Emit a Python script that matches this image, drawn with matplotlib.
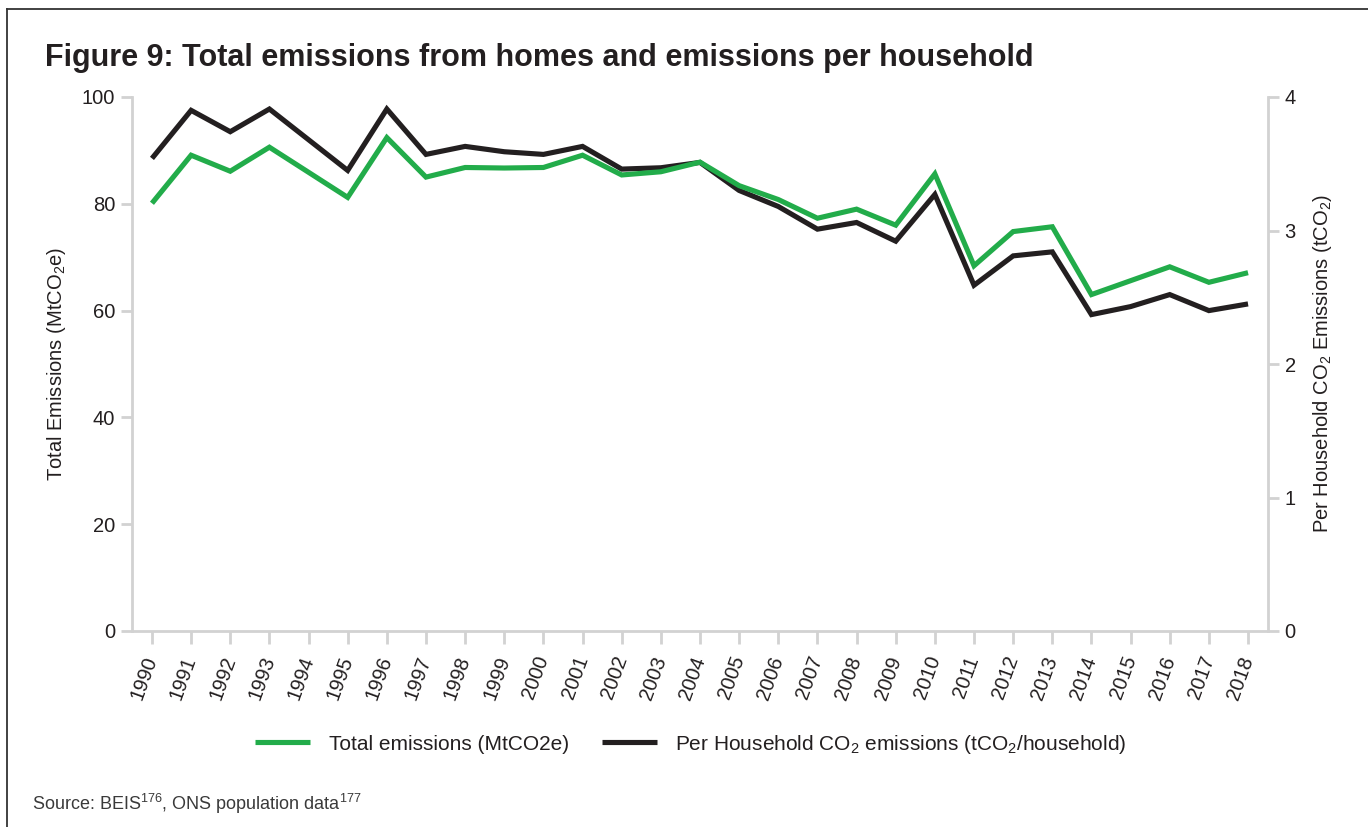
import matplotlib
matplotlib.use("Agg")
import matplotlib.pyplot as plt
from matplotlib.lines import Line2D

plt.rcParams['font.family'] = ['Liberation Sans', 'DejaVu Sans']
plt.rcParams['mathtext.fontset'] = 'custom'
plt.rcParams['mathtext.rm'] = 'Liberation Sans'

# ---- data ----
years = list(range(1990, 2019))
total_emissions = [80.1, 89.1, 86.1, 90.6, 85.9, 81.2, 92.4, 85.0, 86.8, 86.7,
                   86.8, 89.1, 85.4, 86.0, 87.8, 83.4, 80.8, 77.3, 79.0, 76.0,
                   85.6, 68.4, 74.8, 75.7, 63.0, 65.6, 68.2, 65.3, 67.1]
per_household = [3.54, 3.90, 3.74, 3.91, 3.68, 3.45, 3.91, 3.57, 3.63, 3.59,
                 3.57, 3.63, 3.46, 3.47, 3.51, 3.30, 3.18, 3.01, 3.06, 2.92,
                 3.27, 2.59, 2.81, 2.84, 2.37, 2.43, 2.52, 2.40, 2.45]
left_ticks = [0, 20, 40, 60, 80, 100]
right_ticks = [0, 1, 2, 3, 4]

title = "Figure 9: Total emissions from homes and emissions per household"
label_total = "Total emissions (MtCO2e)"
label_hh = r"Per Household CO$_\mathregular{2}$ emissions (tCO$_\mathregular{2}$/household)"
ylabel_left = r"Total Emissions (MtCO$_\mathregular{2}$e)"
ylabel_right = r"Per Household CO$_\mathregular{2}$ Emissions (tCO$_\mathregular{2}$)"
source = r"Source: BEIS$^\mathregular{176}$, ONS population data$^\mathregular{177}$"

GREEN = '#22ac4a'
BLACK = '#231f20'
GRID = '#d2d2d2'
TXT = '#231f20'

W, H = 1368, 827
fig = plt.figure(figsize=(W / 100, H / 100), dpi=100)

x0, x1, ytop, ybot = 132, 1268, 97, 631
ax = fig.add_axes([x0 / W, 1 - ybot / H, (x1 - x0) / W, (ybot - ytop) / H])
ax2 = ax.twinx()

ax2.plot(years, per_household, color=BLACK, lw=3.7, solid_joinstyle='miter',
         solid_capstyle='butt', label=label_hh)
ax.plot(years, total_emissions, color=GREEN, lw=3.7, solid_joinstyle='miter',
        solid_capstyle='butt', label=label_total)

ax.set_zorder(ax2.get_zorder() + 1)
ax.patch.set_visible(False)

ax.set_xlim(1989.49, 2018.51)
ax.set_ylim(0, 100)
ax2.set_ylim(0, 4)
ax.set_xticks(years)
ax.set_xticklabels([str(y) for y in years], rotation=70, ha='right',
                   rotation_mode='anchor', va='center', fontsize=14.5, color=TXT)
ax.set_yticks(left_ticks)
ax.set_yticklabels([str(v) for v in left_ticks], fontsize=14.5, color=TXT)
ax2.set_yticks(right_ticks)
ax2.set_yticklabels([str(v) for v in right_ticks], fontsize=14.5, color=TXT)

for a in (ax, ax2):
    for s in a.spines.values():
        s.set_color(GRID)
        s.set_linewidth(2.0)
    a.spines['top'].set_visible(False)
ax.spines['right'].set_visible(False)
ax2.spines['left'].set_visible(False)
ax2.spines['bottom'].set_visible(False)

ax.tick_params(axis='y', direction='out', length=8, width=2.0, color=GRID, pad=4)
ax.tick_params(axis='x', direction='out', length=9.5, width=2.0, color=GRID, pad=9)
ax2.tick_params(axis='y', direction='out', length=8, width=2.0, color=GRID, pad=4)

ax.set_ylabel(ylabel_left, fontsize=14.5, color=TXT)
ax.yaxis.set_label_coords((57 - x0) / (x1 - x0), 0.5)
ax.yaxis.label.set_va('center')
ax.yaxis.label.set_ha('center')
ax2.set_ylabel(ylabel_right, fontsize=14.5, color=TXT)
ax2.yaxis.set_label_coords((1323 - x0) / (x1 - x0), 0.5)
ax2.yaxis.label.set_va('center')
ax2.yaxis.label.set_ha('center')
ax2.yaxis.label.set_rotation(90)

fig.text(45 / W, 1 - 66 / H, title, fontsize=22, fontweight='bold',
         color=TXT, ha='left', va='baseline')

h1, l1 = ax.get_legend_handles_labels()
h2, l2 = ax2.get_legend_handles_labels()
fig.legend(h1 + h2, l1 + l2, loc='center', bbox_to_anchor=(691 / W, 1 - 744 / H),
           ncol=2, frameon=False, fontsize=15, handlelength=2.64,
           handletextpad=0.87, columnspacing=1.6, labelcolor=TXT)

fig.text(32 / W, 1 - 810 / H, source, fontsize=13, color='#3a3a3a',
         ha='left', va='baseline')

# outer frame (top and left edges)
fig.add_artist(Line2D([7 / W, 1], [1 - 9 / H, 1 - 9 / H], color='#333333', lw=1.3,
                      transform=fig.transFigure))
fig.add_artist(Line2D([7 / W, 7 / W], [0, 1 - 9 / H], color='#333333', lw=1.3,
                      transform=fig.transFigure))

fig.savefig('out.png', dpi=100, facecolor='white')
